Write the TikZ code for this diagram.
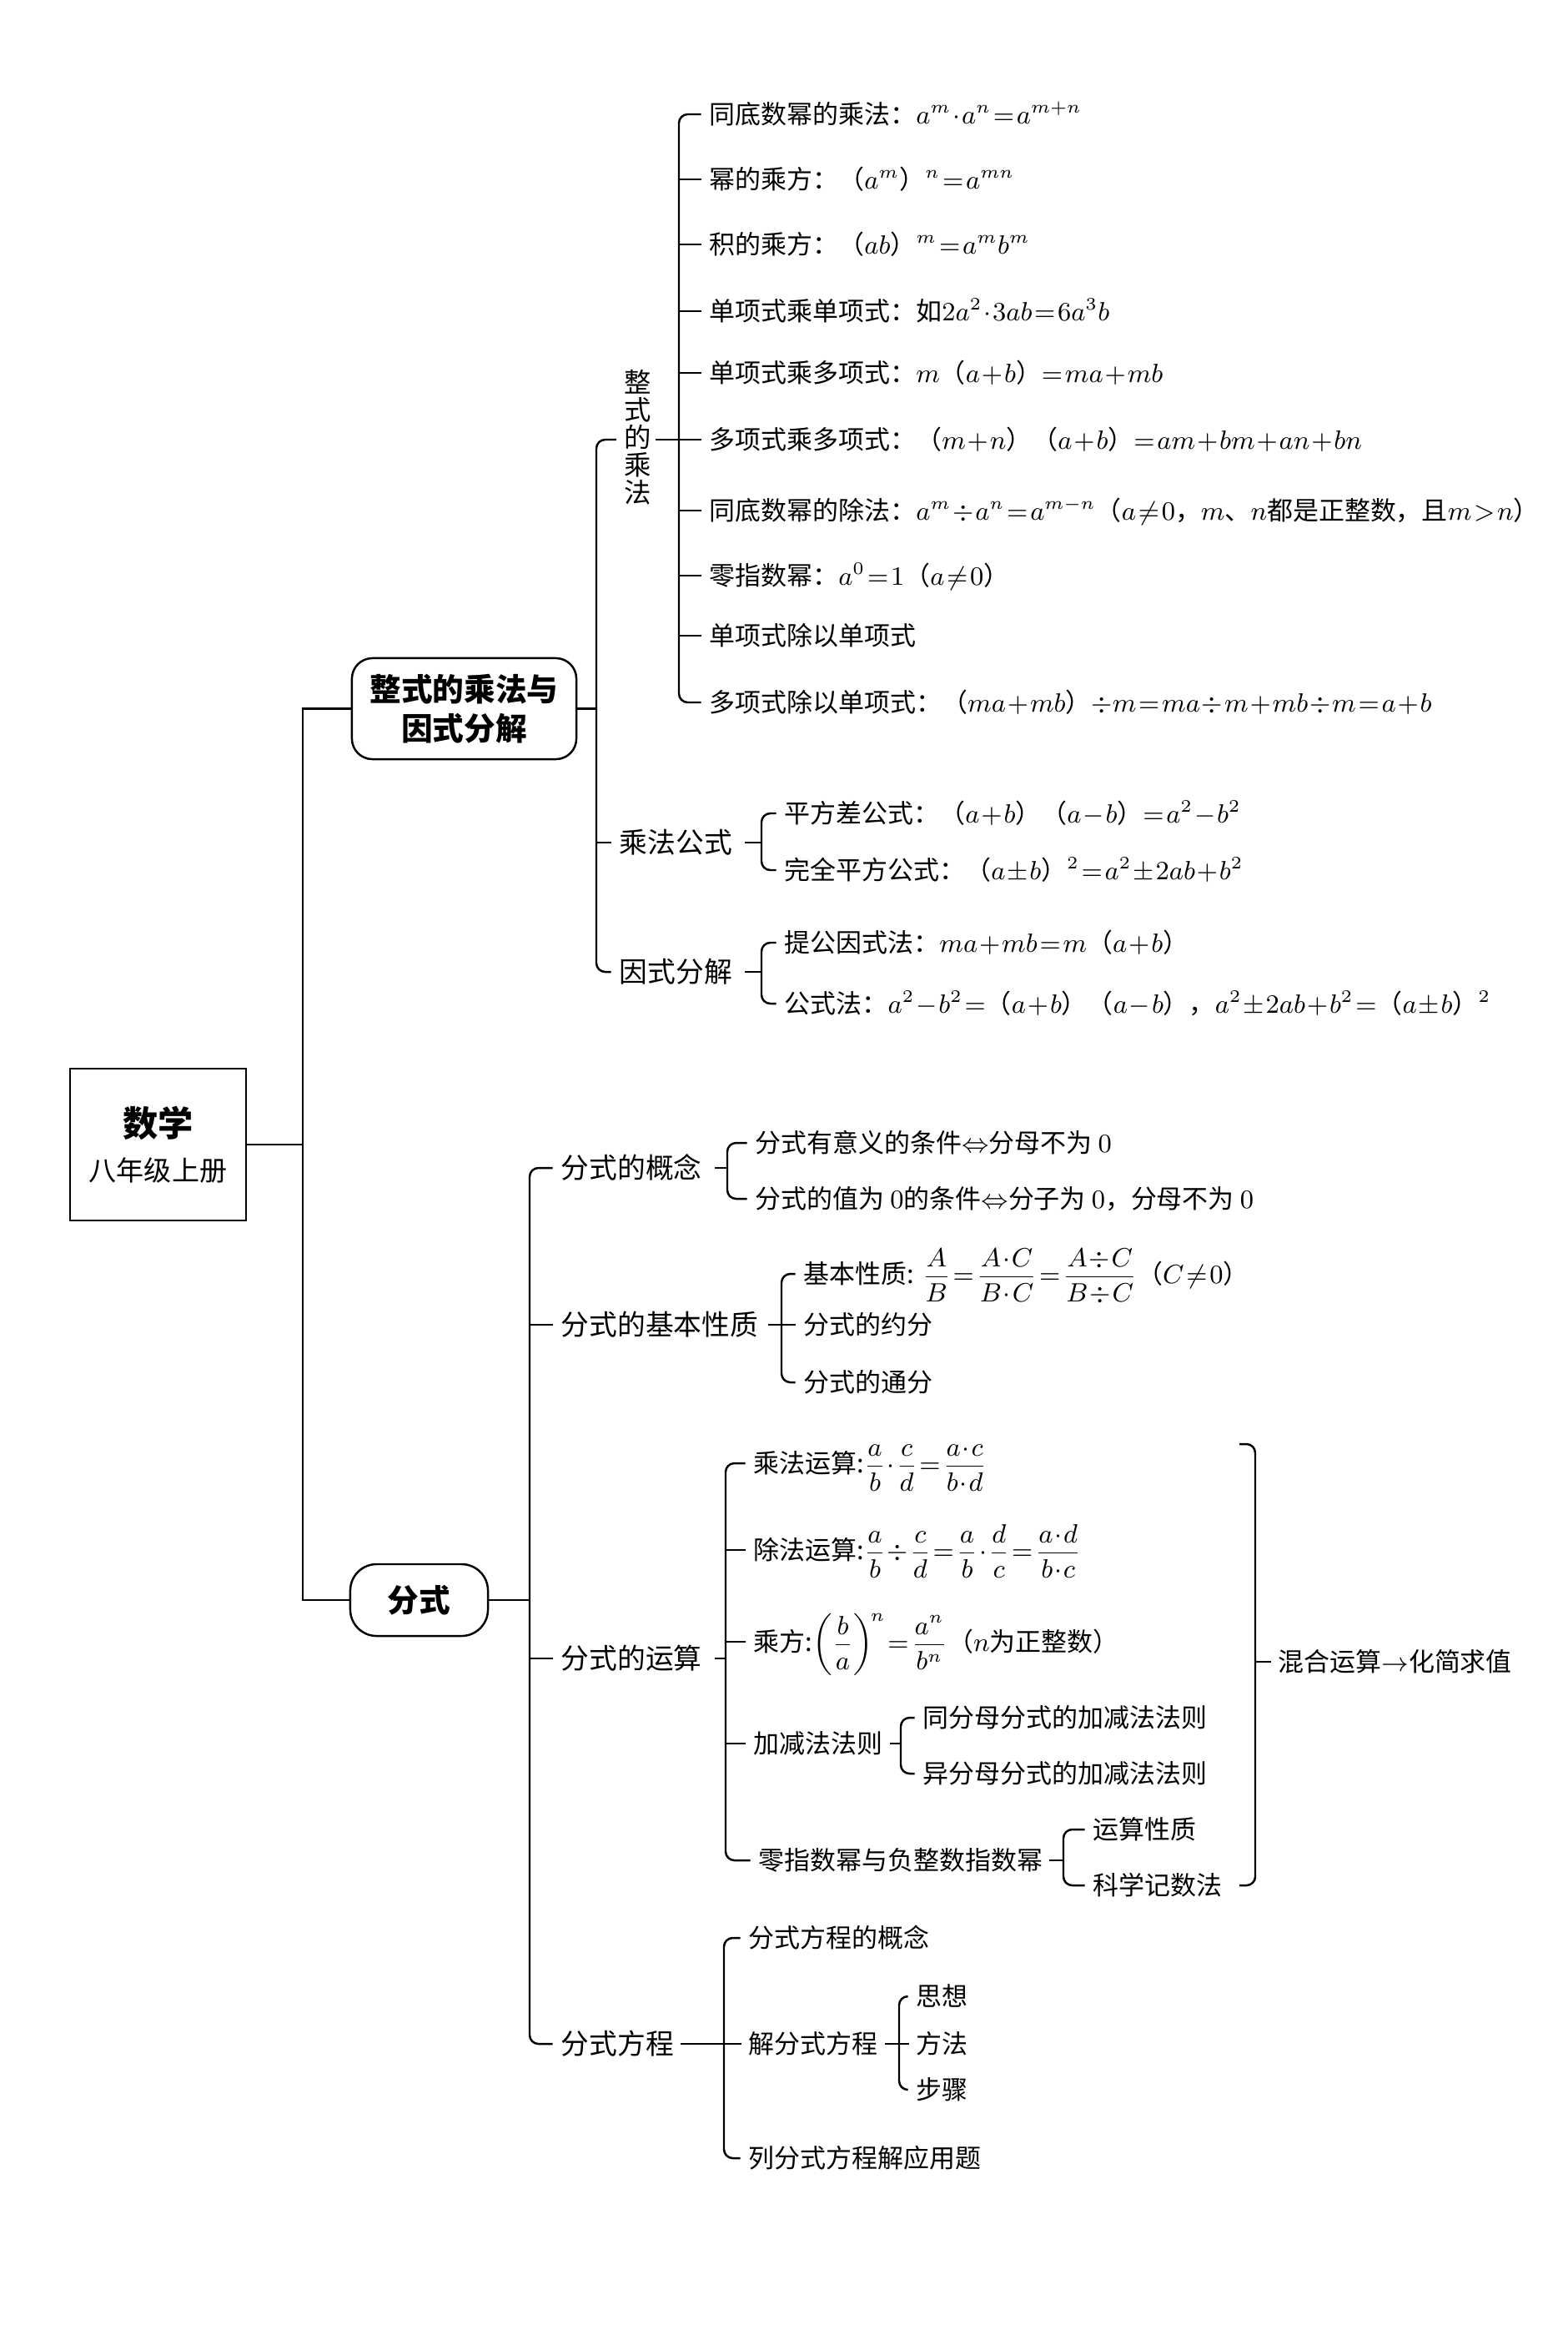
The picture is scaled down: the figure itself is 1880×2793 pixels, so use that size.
\documentclass[tikz,border=0pt]{standalone}
\usepackage{amsmath}
\usepackage{amssymb}
\usepackage[no-math]{fontspec}
\setmainfont{Noto Sans CJK SC}
\usepackage{tikz}
\thinmuskip=2mu
\medmuskip=1mu
\thickmuskip=1.5mu

\begin{document}
\begin{tikzpicture}[x=0.01cm,y=-0.01cm,line width=0.7pt,
  leaf/.style={anchor=west,inner sep=1pt,font=\fontsize{8.8}{10}\selectfont,text height=7.7pt,text depth=1.1pt},
  mid/.style={anchor=west,inner sep=1pt,font=\fontsize{9.6}{11}\selectfont,text height=8.4pt,text depth=1.2pt},
  topic/.style={draw,rounded corners=7pt,align=center,inner sep=2pt,font=\fontsize{10.7}{13.4}\bfseries\selectfont},
  curly/.style={rounded corners=3pt}]
\useasboundingbox (0,0) rectangle (1880,2793);

% root and the two topics
\node[draw,minimum width=2.11cm,minimum height=1.82cm,align=center,font=\fontsize{9.4}{15}\selectfont] (math) at (189.5,1372)
  {{\fontsize{12}{15}\bfseries\selectfont 数学}\\八年级上册};
\node[topic,minimum width=2.69cm,minimum height=1.21cm] (zs) at (556.5,849.5) {整式的乘法与\\因式分解};
\node[topic,minimum width=1.65cm,minimum height=0.86cm,rounded corners=9pt] (fs) at (502.5,1918) {分式};
\coordinate (trunk) at (363,1372);
\draw (math.east) -- (trunk);
\draw (zs.west) -| (trunk) |- (fs.west);

% 整式的乘法与因式分解
\node[inner sep=1pt,align=center,font=\fontsize{9.2}{9.4}\selectfont] (zc) at (765,524) {整\\式\\的\\乘\\法};
\node[mid] (cf) at (738,1010) {乘法公式};
\node[mid] (yf) at (738,1165) {因式分解};

\node[leaf] (zc_1) at (846,137) {同底数幂的乘法：$a^m\cdot a^n=a^{m+n}$};
\node[leaf] (zc_2) at (846,215) {幂的乘方：（$a^m$）$^n=a^{mn}$};
\node[leaf] (zc_3) at (846,293) {积的乘方：（$ab$）$^m=a^mb^m$};
\node[leaf] (zc_4) at (846,373) {单项式乘单项式：如$2a^2\cdot3ab=6a^3b$};
\node[leaf] (zc_5) at (846,447) {单项式乘多项式：$m$（$a+b$）$=ma+mb$};
\node[leaf] (zc_6) at (846,527) {多项式乘多项式：（$m+n$）（$a+b$）$=am+bm+an+bn$};
\node[leaf] (zc_7) at (846,612) {同底数幂的除法：$a^m\div a^n=a^{m-n}$（$a\neq0$，$m$、$n$都是正整数，且$m>n$）};
\node[leaf] (zc_8) at (846,690) {零指数幂：$a^0=1$（$a\neq0$）};
\node[leaf] (zc_9) at (846,762) {单项式除以单项式};
\node[leaf] (zc_10) at (846,842) {多项式除以单项式：（$ma+mb$）$\div m=ma\div m+mb\div m=a+b$};

\coordinate (b_zs) at (715,849.5);
\draw (zs.east) -- (b_zs);
\draw[curly] ([xshift=-1.5pt]zc.west |- zc_6.west) -| (b_zs) |- ([xshift=-1.5pt]yf.west);
\draw (b_zs |- cf.west) -- ([xshift=-1.5pt]cf.west);

\coordinate (b_zc) at (814,527);
\draw (zc.east |- zc_6.west) -- ([xshift=-1.5pt]zc_6.west);
\draw[curly] ([xshift=-1.5pt]zc_1.west) -| (b_zc) |- ([xshift=-1.5pt]zc_10.west);
\draw (b_zc |- zc_2.west) -- ([xshift=-1.5pt]zc_2.west)
      (b_zc |- zc_3.west) -- ([xshift=-1.5pt]zc_3.west)
      (b_zc |- zc_4.west) -- ([xshift=-1.5pt]zc_4.west)
      (b_zc |- zc_5.west) -- ([xshift=-1.5pt]zc_5.west)
      (b_zc |- zc_7.west) -- ([xshift=-1.5pt]zc_7.west)
      (b_zc |- zc_8.west) -- ([xshift=-1.5pt]zc_8.west)
      (b_zc |- zc_9.west) -- ([xshift=-1.5pt]zc_9.west);

\node[leaf] (cf_1) at (936,975) {平方差公式：（$a+b$）（$a-b$）$=a^2-b^2$};
\node[leaf] (cf_2) at (936,1043) {完全平方公式：（$a\pm b$）$^2=a^2\pm2ab+b^2$};
\coordinate (b_cf) at (913,1010);
\draw ([xshift=3pt]cf.east) -- (b_cf);
\draw[curly] ([xshift=-1.5pt]cf_1.west) -| (b_cf) |- ([xshift=-1.5pt]cf_2.west);

\node[leaf] (yf_1) at (936,1130) {提公因式法：$ma+mb=m$（$a+b$）};
\node[leaf] (yf_2) at (936,1203) {公式法：$a^2-b^2=$（$a+b$）（$a-b$），$a^2\pm2ab+b^2=$（$a\pm b$）$^2$};
\coordinate (b_yf) at (913,1165);
\draw ([xshift=3pt]yf.east) -- (b_yf);
\draw[curly] ([xshift=-1.5pt]yf_1.west) -| (b_yf) |- ([xshift=-1.5pt]yf_2.west);

% 分式
\node[mid] (gn) at (668,1400) {分式的概念};
\node[mid] (xz) at (668,1588) {分式的基本性质};
\node[mid] (ys) at (668,1988) {分式的运算};
\node[mid] (fc) at (668,2450) {分式方程};
\coordinate (b_fs) at (635,1918);
\draw (fs.east) -- (b_fs);
\draw[curly] ([xshift=-1.5pt]gn.west) -| (b_fs) |- ([xshift=-1.5pt]fc.west);
\draw (b_fs |- xz.west) -- ([xshift=-1.5pt]xz.west)
      (b_fs |- ys.west) -- ([xshift=-1.5pt]ys.west);

\node[leaf] (gn_1) at (901,1370) {分式有意义的条件$\Leftrightarrow$分母不为 $0$};
\node[leaf] (gn_2) at (901,1437) {分式的值为 $0$的条件$\Leftrightarrow$分子为 $0$，分母不为 $0$};
\coordinate (b_gn) at (872,1400);
\draw ([xshift=3pt]gn.east) -- (b_gn);
\draw[curly] ([xshift=-1.5pt]gn_1.west) -| (b_gn) |- ([xshift=-1.5pt]gn_2.west);

\node[leaf] (xz_1) at (959,1527) {基本性质: $\dfrac{A}{B}=\dfrac{A\cdot C}{B\cdot C}=\dfrac{A\div C}{B\div C}$（$C\neq0$）};
\node[leaf] (xz_2) at (959,1588) {分式的约分};
\node[leaf] (xz_3) at (959,1657) {分式的通分};
\coordinate (b_xz) at (937,1588);
\draw ([xshift=2pt]xz.east) -- ([xshift=-1.5pt]xz_2.west);
\draw[curly] ([xshift=-1.5pt]xz_1.west) -| (b_xz) |- ([xshift=-1.5pt]xz_3.west);

\node[leaf] (ys_1) at (899,1754) {乘法运算:$\dfrac{a}{b}\cdot\dfrac{c}{d}=\dfrac{a\cdot c}{b\cdot d}$};
\node[leaf] (ys_2) at (899,1858) {除法运算:$\dfrac{a}{b}\div\dfrac{c}{d}=\dfrac{a}{b}\cdot\dfrac{d}{c}=\dfrac{a\cdot d}{b\cdot c}$};
\node[leaf] (ys_3) at (899,1968) {乘方:$\left(\dfrac{b}{a}\right)^{\!n}=\dfrac{a^n}{b^n}$（$n$为正整数）};
\node[leaf] (ys_4) at (899,2090) {加减法法则};
\node[leaf] (ys_5) at (905,2230) {零指数幂与负整数指数幂};
\coordinate (b_ys) at (870,1988);
\draw ([xshift=3pt]ys.east) -- (b_ys);
\draw[curly] ([xshift=-1.5pt]ys_1.west) -| (b_ys) |- ([xshift=-1.5pt]ys_5.west);
\draw (b_ys |- ys_2.west) -- ([xshift=-1.5pt]ys_2.west)
      (b_ys |- ys_3.west) -- ([xshift=-1.5pt]ys_3.west)
      (b_ys |- ys_4.west) -- ([xshift=-1.5pt]ys_4.west);

\node[leaf] (jj_1) at (1102,2059) {同分母分式的加减法法则};
\node[leaf] (jj_2) at (1102,2126) {异分母分式的加减法法则};
\coordinate (b_jj) at (1080,2090);
\draw ([xshift=1pt]ys_4.east) -- (b_jj);
\draw[curly] ([xshift=-1.5pt]jj_1.west) -| (b_jj) |- ([xshift=-1.5pt]jj_2.west);

\node[leaf] (zf_1) at (1306,2193) {运算性质};
\node[leaf] (zf_2) at (1306,2260) {科学记数法};
\coordinate (b_zf) at (1275,2230);
\draw ([xshift=1pt]ys_5.east) -- (b_zf);
\draw[curly] ([xshift=-1.5pt]zf_1.west) -| (b_zf) |- ([xshift=-1.5pt]zf_2.west);

\node[leaf] (mix) at (1528,1992) {混合运算$\rightarrow$化简求值};
\coordinate (rb_top) at (1486,1731);
\coordinate (rb_bot) at (1486,2260);
\coordinate (rb) at (1505,1992);
\draw[curly] (rb_top) -| (rb) |- (rb_bot);
\draw (rb) -- ([xshift=-1pt]mix.west);

\node[leaf] (fc_1) at (893,2323) {分式方程的概念};
\node[leaf] (fc_2) at (893,2450) {解分式方程};
\node[leaf] (fc_3) at (893,2587) {列分式方程解应用题};
\coordinate (b_fc) at (868,2450);
\draw ([xshift=1pt]fc.east) -- ([xshift=-1pt]fc_2.west);
\draw[curly] ([xshift=-1.5pt]fc_1.west) -| (b_fc) |- ([xshift=-1.5pt]fc_3.west);

\node[leaf] (jf_1) at (1094,2393) {思想};
\node[leaf] (jf_2) at (1094,2450) {方法};
\node[leaf] (jf_3) at (1094,2505) {步骤};
\coordinate (b_jf) at (1078,2450);
\draw ([xshift=1pt]fc_2.east) -- ([xshift=-1pt]jf_2.west);
\draw[curly] ([xshift=-1.5pt]jf_1.west) -| (b_jf) |- ([xshift=-1.5pt]jf_3.west);
\end{tikzpicture}
\end{document}
